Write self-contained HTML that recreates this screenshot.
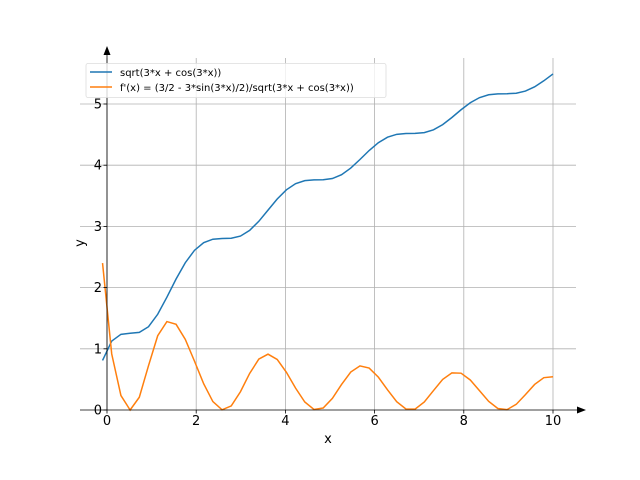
<!DOCTYPE html>
<html><head><meta charset="utf-8"><style>body{margin:0;background:#fff}svg{display:block}text{font-family:"DejaVu Sans","Liberation Sans",sans-serif}</style></head><body>
<svg id="s" width="640" height="480" xmlns="http://www.w3.org/2000/svg">
<g stroke="#b0b0b0" stroke-width="0.8" fill="none">
<line x1="107" y1="58" x2="107" y2="410"/><line x1="196.2" y1="58" x2="196.2" y2="410"/><line x1="285.4" y1="58" x2="285.4" y2="410"/><line x1="374.6" y1="58" x2="374.6" y2="410"/><line x1="463.8" y1="58" x2="463.8" y2="410"/><line x1="553" y1="58" x2="553" y2="410"/>
<line x1="80" y1="104" x2="576" y2="104"/><line x1="80" y1="165.2" x2="576" y2="165.2"/><line x1="80" y1="226.4" x2="576" y2="226.4"/><line x1="80" y1="287.6" x2="576" y2="287.6"/><line x1="80" y1="348.8" x2="576" y2="348.8"/>
</g>
<path id="p1" fill="none" stroke="#1f77b4" stroke-width="1.5"/>
<path id="p2" fill="none" stroke="#ff7f0e" stroke-width="1.5"/>
<g stroke="#000" stroke-width="0.8">
<line x1="107" y1="410" x2="107" y2="52"/><line x1="80" y1="410" x2="580" y2="410"/>
</g>
<polygon points="107,46 103.5,55 110.5,55" fill="#000"/>
<polygon points="586,410 577,406.5 577,413.5" fill="#000"/>
<g id="ticks" stroke="#000" stroke-width="0.8"></g>
<g font-size="13" fill="#000" text-anchor="middle">
<text x="107" y="425">0</text><text x="196.2" y="425">2</text><text x="285.4" y="425">4</text><text x="374.6" y="425">6</text><text x="463.8" y="425">8</text><text x="553" y="425">10</text>
<text x="328" y="443">x</text>
<text x="84" y="243" transform="rotate(-90 84 243)">y</text>
</g>
<g font-size="13" fill="#000" text-anchor="end">
<text x="102" y="108.5">5</text><text x="102" y="169.7">4</text><text x="102" y="230.9">3</text><text x="102" y="292.1">2</text><text x="102" y="353.3">1</text><text x="102" y="414.5">0</text>
</g>
<rect x="86" y="63.5" width="300" height="34" rx="2" fill="#fff" fill-opacity="0.8" stroke="#ddd" stroke-width="0.8"/>
<line x1="90" y1="72" x2="112" y2="72" stroke="#1f77b4" stroke-width="1.5"/>
<line x1="90" y1="87" x2="112" y2="87" stroke="#ff7f0e" stroke-width="1.5"/>
<g font-size="10" fill="#000"><text x="120" y="76">sqrt(3*x + cos(3*x))</text><text x="120" y="91">f'(x) = (3/2 - 3*sin(3*x)/2)/sqrt(3*x + cos(3*x))</text></g>
</svg>
<script>
var X=function(x){return 107+x*44.6},Y=function(y){return 410-y*61.2};
var a="",b="",n=50;
for(var i=0;i<n;i++){var x=-0.1+i*10.1/(n-1);var g=Math.sqrt(3*x+Math.cos(3*x));var d=(1.5-1.5*Math.sin(3*x))/g;
a+=(i?"L":"M")+X(x).toFixed(2)+","+Y(g).toFixed(2);b+=(i?"L":"M")+X(x).toFixed(2)+","+Y(d).toFixed(2);}
document.getElementById("p1").setAttribute("d",a);document.getElementById("p2").setAttribute("d",b);
var t="";for(var k=0;k<=5;k++){t+='<line x1="'+X(2*k)+'" y1="410" x2="'+X(2*k)+'" y2="413.5"/>';t+='<line x1="103.5" y1="'+Y(k)+'" x2="107" y2="'+Y(k)+'"/>';}
document.getElementById("ticks").innerHTML=t;
</script>
</body></html>
